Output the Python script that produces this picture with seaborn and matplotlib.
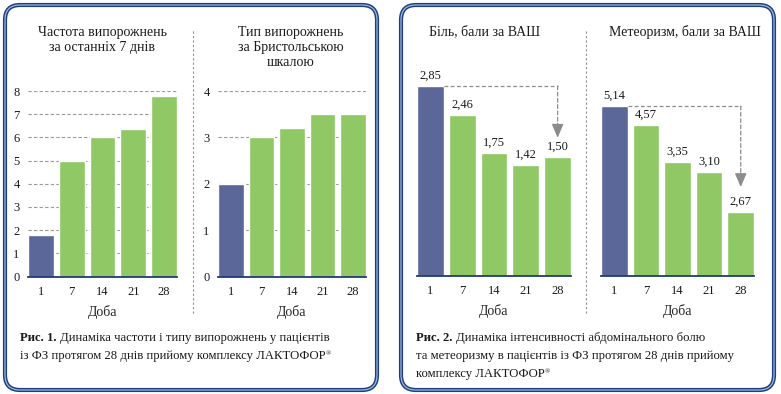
import matplotlib
matplotlib.use('Agg')
import matplotlib.pyplot as plt
from matplotlib.patches import FancyBboxPatch
import seaborn as sns


# Fig. 1 / Fig. 2, LACTOFOR study: four small bar panels in two framed boxes

days = ['1', '7', '14', '21', '28']

freq = [1.8, 5.0, 6.0, 6.35, 7.8]          # частота випорожнень
bristol = [2.0, 3.0, 3.2, 3.5, 3.5]        # тип за Бристольською шкалою
pain = [2.85, 2.41, 1.84, 1.66, 1.78]      # біль (висота стовпців як на малюнку)
pain_labels = ['2,85', '2,46', '1,75', '1,42', '1,50']
meteo = [5.14, 4.57, 3.45, 3.14, 1.93]     # метеоризм (висота стовпців як на малюнку)
meteo_labels = ['5,14', '4,57', '3,35', '3,10', '2,67']

freq_ticks = [0, 1, 2, 3, 4, 5, 6, 7, 8]
bristol_ticks = [0, 1, 2, 3, 4]

BLUE = '#5b6799'
GREEN = '#8fc865'
NAVY = '#1f3a75'
GREY = '#8c8c8c'
W, H = 781, 394

sns.set_theme(style='white')
plt.rcParams['font.family'] = ['Liberation Serif', 'DejaVu Serif']
plt.rcParams['text.color'] = '#1a1a1a'

fig = plt.figure(figsize=(W / 100, H / 100), dpi=100)

bg = fig.add_axes([0, 0, 1, 1], zorder=0)
bg.set_xlim(0, W)
bg.set_ylim(H, 0)
bg.axis('off')
bg.patch.set_alpha(0)


def px(x0, x1, ytop, ybot):
    return [x0 / W, 1 - ybot / H, (x1 - x0) / W, (ybot - ytop) / H]


def panel(rect, vals, ylim, bw=0.84):
    ax = fig.add_axes(px(*rect), zorder=2)
    ax.patch.set_alpha(0)
    pal = [BLUE] + [GREEN] * (len(days) - 1)
    sns.barplot(x=days, y=vals, hue=days, palette=pal, order=days, hue_order=days,
                legend=False, width=bw, saturation=1, ax=ax)
    ax.set_xlim(-bw / 2, len(days) - 1 + bw / 2)
    ax.set_ylim(*ylim)
    for s in ('top', 'right', 'left'):
        ax.spines[s].set_visible(False)
    ax.spines['bottom'].set_color(NAVY)
    ax.spines['bottom'].set_linewidth(1.3)
    ax.tick_params(axis='both', length=0, labelsize=9, colors='#1a1a1a')
    ax.tick_params(axis='x', pad=7)
    ax.set_xlabel('Доба', fontsize=10, labelpad=5)
    ax.set_ylabel('')
    return ax


ax1 = panel((28, 177, 91, 276.5), freq, (0, 8))
ax1.set_yticks(freq_ticks)
ax2 = panel((218, 366, 91, 276.5), bristol, (0, 4))
ax2.set_yticks(bristol_ticks)
for ax in (ax1, ax2):
    ax.yaxis.grid(True, linestyle=(0, (3, 2)), color='#9a9a9a', lw=0.8)
    ax.set_axisbelow(True)
    ax.tick_params(axis='y', pad=6)

ax3 = panel((417, 571, 60, 275.7), pain, (0, 3.24))
ax4 = panel((601, 754, 60, 275.7), meteo, (0, 6.54))


def finish(ax, vals, labels, tip_gap):
    ax.set_yticks([])
    for cont, lab in zip(ax.containers, labels):
        ax.bar_label(cont, labels=[lab], padding=3, fontsize=9)
    last = len(vals) - 1
    ax.plot([0.42, last], [vals[0], vals[0]], ls=(0, (3, 2)), color=GREY, lw=0.9,
            clip_on=False)
    ax.annotate('', xy=(last, vals[-1]), xytext=(last, vals[0]),
                arrowprops=dict(arrowstyle='-', ls=(0, (3, 2)), color=GREY, lw=0.9,
                                shrinkA=0, shrinkB=tip_gap + 5))
    ax.annotate('', xy=(last, vals[-1]), xytext=(0, tip_gap + 7), textcoords='offset points',
                arrowprops=dict(arrowstyle='-|>,head_length=0.7,head_width=0.3',
                                color=GREY, lw=0.9, shrinkA=0, shrinkB=tip_gap))


finish(ax3, pain, pain_labels, 14)
finish(ax4, meteo, meteo_labels, 18)

# frames
for x0, x1 in ((5, 377), (401, 774)):
    for lw, col in ((3.0, '#1d3f7f'), (0.9, '#9fb6dc')):
        bg.add_patch(FancyBboxPatch((x0, 5), x1 - x0, 385,
                                    boxstyle='round,pad=0,rounding_size=15',
                                    fc='none', ec=col, lw=lw))

# dashed dividers between panels
for xd in (193, 586):
    bg.plot([xd, xd], [31, 315], ls=(0, (2, 2)), color='#909090', lw=0.8)

# panel titles
tkw = dict(ha='center', va='center', fontsize=10, linespacing=1.2)
bg.text(102, 40, 'Частота випорожнень\nза останніх 7 днів', **tkw)
bg.text(291, 47, 'Тип випорожнень\nза Бристольською\nшкалою', **tkw)
bg.text(485, 32, 'Біль, бали за ВАШ', **tkw)
bg.text(685, 32, 'Метеоризм, бали за ВАШ', **tkw)


def caption(x, y, pieces):
    prev = None
    for txt, kw in pieces:
        if prev is None:
            prev = bg.text(x, y, txt, va='baseline', **kw)
        else:
            prev = bg.annotate(txt, xy=kw.pop('at', (1, 0)), xycoords=prev,
                               va='bottom', **kw)


cb = dict(fontsize=9.2, fontweight='bold')
cr = dict(fontsize=9.2)
sup = dict(fontsize=5, at=(1, 0.45))
caption(20, 341, [('Рис. 1. ', cb), ('Динаміка частоти і типу випорожнень у пацієнтів', cr)])
caption(20, 359, [('із ФЗ протягом 28 днів прийому комплексу ЛАКТОФОР', cr), ('®', dict(sup))])
caption(416, 341, [('Рис. 2. ', cb), ('Динаміка інтенсивності абдомінального болю', cr)])
caption(416, 359, [('та метеоризму в пацієнтів із ФЗ протягом 28 днів прийому', cr)])
caption(416, 377, [('комплексу ЛАКТОФОР', cr), ('®', dict(sup))])

fig.savefig('out.png', dpi=100)
